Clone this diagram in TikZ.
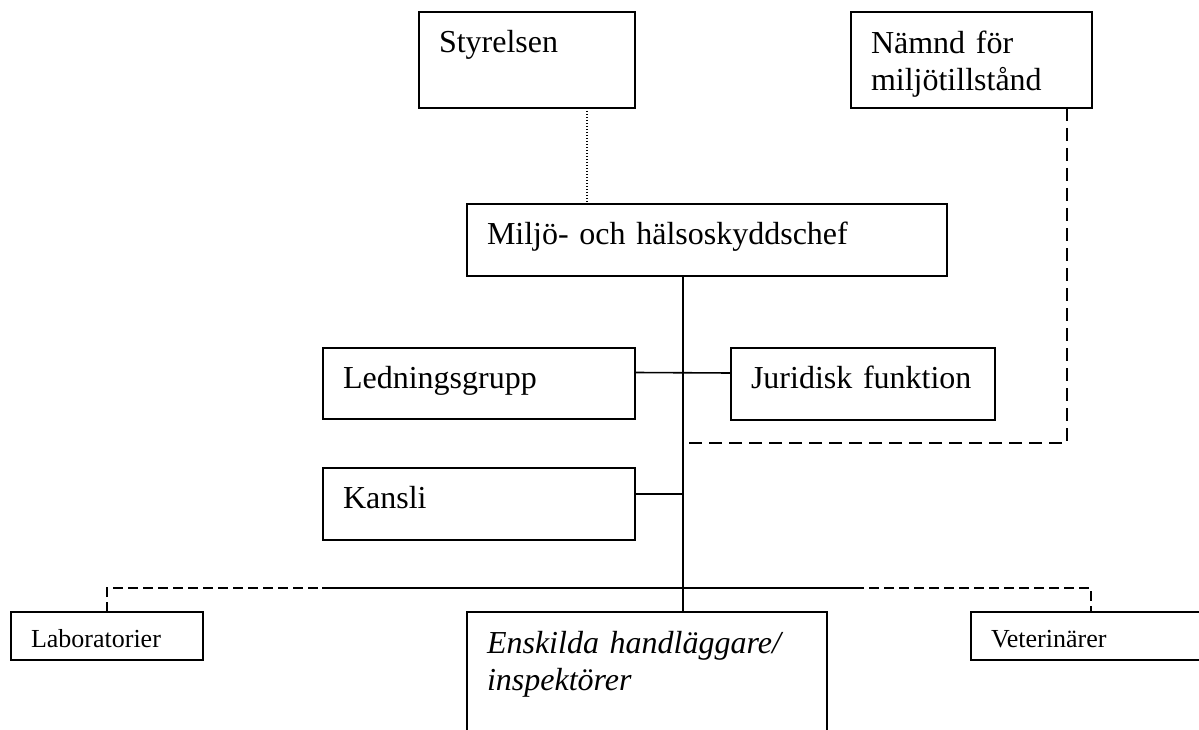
\documentclass[tikz,border=0pt]{standalone}
\usepackage{fontspec}
\setmainfont{Liberation Serif}
\tikzstyle{org}=[rectangle, draw, line width=1.6pt, anchor=north west, inner xsep=20pt, inner ysep=0pt, outer sep=0pt, align=left]

\begin{document}
\begin{tikzpicture}
      [x=1pt, y=-1pt,
      big/.style={org, font=\fontsize{32}{37}\selectfont, text height=40pt, text depth=32pt},
      small/.style={org, font=\fontsize{26}{30}\selectfont, text height=35pt, text depth=13pt},
      link/.style={line width=1.6pt},
      dashlink/.style={line width=1.6pt, dash pattern=on 10pt off 5pt},
      dotlink/.style={line width=1.2pt, dash pattern=on 1.2pt off 1.8pt}]
      \useasboundingbox (0,0) rectangle (1199,730);
      % Place nodes
      \node [big, text width=176pt, text height=41pt, text depth=55pt] (styrelsen) at (419,12) {Styrelsen};
      \node [big, text width=201pt, text height=42pt, text depth=54pt] (naemnd) at (851,12) {Nämnd för\\miljötillstånd};
      \node [big, text width=440pt] (chef) at (467,204) {Miljö- och hälsoskyddschef};
      \node [big, text width=272pt, text depth=31pt] (ledning) at (323,348) {Ledningsgrupp};
      \node [big, text width=224pt] (juridisk) at (731,348) {Juridisk funktion};
      \node [big, text width=272pt] (kansli) at (323,468) {Kansli};
      \node [big, font=\fontsize{32}{37}\selectfont\itshape, text width=320pt, text height=41pt, text depth=130pt] (enskilda) at (467,612) {Enskilda handläggare/\\inspektörer};
      \node [small, text width=152pt] (lab) at (11,612) {Laboratorier};
      \node [small, text width=200pt] (vet) at (971,612) {Veterinärer};
      % Helper points
      \coordinate (trunk) at (683,0);
      \coordinate (dotx) at (587,0);
      \coordinate (turn) at (683,443);
      \coordinate (busL) at (322,588);
      \coordinate (busR) at (854,588);
      \coordinate (kjoin) at ([yshift=10pt]kansli.east);
      % Draw edges
      \draw [dotlink] (styrelsen.south -| dotx) -- (chef.north -| dotx);
      \draw [link] (chef.south -| trunk) -- (enskilda.north -| trunk);
      \draw [link] ([yshift=11pt]ledning.east) -- ([yshift=11pt]juridisk.west);
      \draw [link] (kjoin) -- (kjoin -| trunk);
      \draw [dashlink, dash pattern=on 13pt off 7pt] ([xshift=-25pt]naemnd.south east) |- (turn);
      \draw [dashlink] (lab.north) |- (busL);
      \draw [link] (busL) -- (busR);
      \draw [dashlink] (busR) -| (vet.north);
\end{tikzpicture}
\end{document}
